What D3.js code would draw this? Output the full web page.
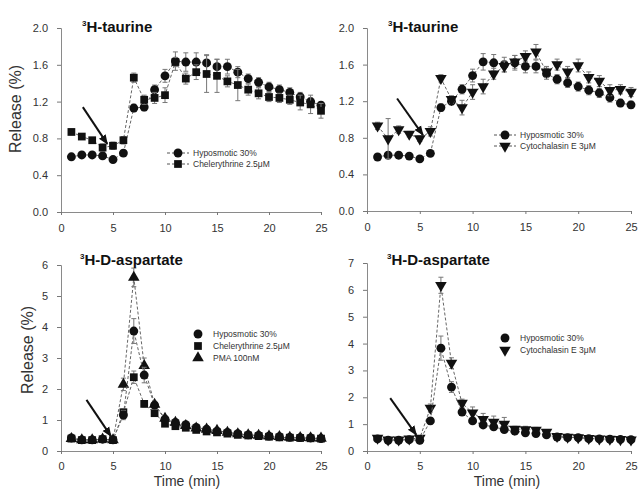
<!DOCTYPE html>
<html>
<head>
<meta charset="utf-8">
<script src="https://cdn.jsdelivr.net/npm/d3@7"></script>
<style>
body{margin:0;background:#fff;}
svg{display:block;font-family:Arial,"Liberation Sans",sans-serif;}
</style>
</head>
<body>
<svg id="chart" width="639" height="489"></svg>
<script>
// time points (min)
var time = [1,2,3,4,5,6,7,8,9,10,11,12,13,14,15,16,17,18,19,20,21,22,23,24,25];
var xTicks = [0,5,10,15,20,25];

// 3H-taurine, left panel
var taurHypoA = [0.60,0.62,0.62,0.61,0.57,0.64,1.13,1.14,1.33,1.48,1.64,1.63,1.63,1.62,1.58,1.58,1.52,1.45,1.41,1.36,1.33,1.30,1.25,1.20,1.16];
var taurHypoAErr = [0.02,0.02,0.02,0.02,0.02,0.03,0.04,0.04,0.05,0.07,0.10,0.10,0.10,0.09,0.08,0.08,0.06,0.05,0.05,0.05,0.05,0.05,0.05,0.04,0.04];
var taurChel = [0.87,0.82,0.78,0.70,0.72,0.78,1.46,1.22,1.24,1.27,1.63,1.45,1.52,1.50,1.48,1.42,1.38,1.33,1.29,1.25,1.24,1.22,1.19,1.17,1.10];
var taurChelErr = [0.03,0.02,0.03,0.04,0.04,0.04,0.05,0.05,0.06,0.08,0.05,0.06,0.08,0.20,0.18,0.06,0.17,0.06,0.06,0.05,0.05,0.05,0.08,0.10,0.08];

// 3H-taurine, right panel
var taurHypoB = [0.59,0.61,0.61,0.60,0.57,0.63,1.13,1.20,1.33,1.48,1.63,1.62,1.60,1.62,1.58,1.58,1.50,1.44,1.40,1.36,1.32,1.29,1.24,1.18,1.16];
var taurHypoBErr = [0.02,0.02,0.02,0.02,0.02,0.03,0.04,0.04,0.05,0.07,0.09,0.09,0.08,0.08,0.07,0.07,0.06,0.05,0.05,0.05,0.05,0.05,0.05,0.04,0.04];
var taurCyto = [0.93,0.79,0.89,0.84,0.79,0.87,1.45,1.22,1.13,1.30,1.36,1.50,1.58,1.63,1.69,1.74,1.52,1.60,1.52,1.59,1.46,1.42,1.32,1.33,1.30];
var taurCytoErr = [0.04,0.22,0.04,0.03,0.03,0.05,0.04,0.04,0.08,0.08,0.08,0.06,0.06,0.07,0.06,0.08,0.06,0.06,0.06,0.07,0.06,0.06,0.06,0.05,0.05];

// 3H-D-aspartate, left panel
var aspHypoC = [0.42,0.36,0.36,0.38,0.36,1.16,3.87,2.45,1.48,1.03,0.92,0.85,0.76,0.70,0.64,0.60,0.56,0.52,0.50,0.48,0.46,0.44,0.43,0.42,0.40];
var aspHypoCErr = [0.05,0.03,0.03,0.03,0.03,0.15,0.40,0.25,0.12,0.08,0.06,0.05,0.05,0.04,0.04,0.04,0.03,0.03,0.03,0.03,0.03,0.03,0.03,0.03,0.03];
var aspChel = [0.40,0.35,0.35,0.38,0.35,1.25,2.38,1.52,1.22,0.88,0.80,0.75,0.68,0.63,0.60,0.56,0.52,0.50,0.48,0.46,0.44,0.43,0.42,0.41,0.40];
var aspChelErr = [0.03,0.03,0.03,0.03,0.03,0.10,0.20,0.10,0.08,0.06,0.05,0.05,0.04,0.04,0.04,0.03,0.03,0.03,0.03,0.03,0.03,0.03,0.03,0.03,0.03];
var aspPMA = [0.40,0.36,0.36,0.38,0.36,2.15,5.60,2.75,1.50,1.05,0.92,0.82,0.74,0.70,0.66,0.60,0.55,0.52,0.50,0.48,0.46,0.44,0.43,0.42,0.41];
var aspPMAErr = [0.03,0.03,0.03,0.03,0.03,0.20,0.30,0.25,0.10,0.06,0.05,0.05,0.04,0.04,0.04,0.03,0.03,0.03,0.03,0.03,0.03,0.03,0.03,0.03,0.03];

// 3H-D-aspartate, right panel
var aspHypoD = [0.45,0.40,0.40,0.42,0.40,1.12,3.83,2.38,1.45,1.12,0.97,0.90,0.80,0.74,0.68,0.65,0.60,0.52,0.50,0.50,0.46,0.45,0.44,0.43,0.42];
var aspHypoDErr = [0.06,0.03,0.03,0.03,0.04,0.12,0.45,0.20,0.12,0.10,0.08,0.06,0.06,0.05,0.05,0.05,0.04,0.04,0.04,0.04,0.03,0.03,0.03,0.03,0.03];
var aspCyto = [0.48,0.42,0.42,0.45,0.48,1.60,6.17,3.27,1.78,1.42,1.18,1.08,1.00,0.82,0.80,0.78,0.70,0.55,0.52,0.50,0.47,0.45,0.44,0.43,0.42];
var aspCytoErr = [0.05,0.03,0.03,0.03,0.04,0.15,0.30,0.20,0.15,0.22,0.22,0.22,0.25,0.10,0.12,0.10,0.06,0.04,0.04,0.04,0.03,0.03,0.03,0.03,0.03];

var svg = d3.select("#chart");

var panels = [
  {x0:61, x1:321, yb:212, yt:28, ymax:2, yticks:[0,0.4,0.8,1.2,1.6,2.0], fmt:d3.format(".1f"),
   title:"H-taurine", tx:82, ty:32, xpad:9,
   series:[{v:taurHypoA, e:taurHypoAErr, sym:"circle"}, {v:taurChel, e:taurChelErr, sym:"square"}],
   legend:{x:178, y:153, lines:true, items:[["circle","Hyposmotic 30%"],["square","Chelerythrine 2.5\u03bcM"]]},
   arrow:[[2.1,1.14],[4.45,0.74]], ylab:[15,109]},
  {x0:367, x1:631, yb:211, yt:28, ymax:2, yticks:[0,0.4,0.8,1.2,1.6,2.0], fmt:d3.format(".1f"),
   title:"H-taurine", tx:388, ty:32, xpad:9,
   series:[{v:taurHypoB, e:taurHypoBErr, sym:"circle"}, {v:taurCyto, e:taurCytoErr, sym:"down"}],
   legend:{x:505, y:135, lines:true, items:[["circle","Hyposmotic 30%"],["down","Cytochalasin E 3\u03bcM"]]},
   arrow:[[2.85,1.23],[5.3,0.83]]},
  {x0:61, x1:321, yb:451, yt:265, ymax:6, yticks:[0,1,2,3,4,5,6], fmt:d3.format("d"),
   title:"H-D-aspartate", tx:80, ty:265, xpad:8,
   series:[{v:aspChel, e:aspChelErr, sym:"square"}, {v:aspPMA, e:aspPMAErr, sym:"up"}, {v:aspHypoC, e:aspHypoCErr, sym:"circle"}],
   legend:{x:198, y:334, lines:false, items:[["circle","Hyposmotic 30%"],["square","Chelerythrine 2.5\u03bcM"],["up","PMA 100nM"]]},
   arrow:[[2.45,1.65],[4.8,0.48]], ylab:[27,350], xlab:187},
  {x0:367, x1:631, yb:451, yt:263, ymax:7, yticks:[0,1,2,3,4,5,6,7], fmt:d3.format("d"),
   title:"H-D-aspartate", tx:387, ty:265, xpad:8,
   series:[{v:aspCyto, e:aspCytoErr, sym:"down"}, {v:aspHypoD, e:aspHypoDErr, sym:"circle"}],
   legend:{x:505, y:338, lines:false, items:[["circle","Hyposmotic 30%"],["down","Cytochalasin E 3\u03bcM"]]},
   arrow:[[2.2,1.97],[4.67,0.6]], xlab:507}
];

svg.append("defs").append("marker")
  .attr("id","ah").attr("viewBox","0 0 10 10").attr("refX",9).attr("refY",5)
  .attr("markerWidth",5).attr("markerHeight",5).attr("orient","auto")
  .append("path").attr("d","M0,1L10,5L0,9z").attr("fill","#111");

function symPath(sym){
  if(sym=="circle") return d3.symbol().type(d3.symbolCircle).size(62)();
  if(sym=="square") return d3.symbol().type(d3.symbolSquare).size(60)();
  return d3.symbol().type(d3.symbolTriangle).size(58)();
}
function symTransform(sym, x, y){
  return "translate("+x+","+y+")"+(sym=="down" ? " rotate(180)" : "");
}

panels.forEach(function(p){
  var x = d3.scaleLinear().domain([0,25]).range([p.x0,p.x1]);
  var y = d3.scaleLinear().domain([0,p.ymax]).range([p.yb,p.yt]);
  var g = svg.append("g");

  // axes
  var ya = g.append("g").attr("transform","translate("+p.x0+",0)")
    .call(d3.axisLeft(y).tickValues(p.yticks).tickFormat(p.fmt).tickSize(4).tickPadding(9));
  var xa = g.append("g").attr("transform","translate(0,"+p.yb+")")
    .call(d3.axisBottom(x).tickValues(xTicks).tickSize(3).tickPadding(p.xpad));
  [ya,xa].forEach(function(a){
    a.select(".domain").attr("stroke","#8a8a8a");
    a.selectAll(".tick line").attr("stroke","#777");
    a.selectAll("text").attr("font-size",11).attr("fill","#333").attr("font-family","Arial,'Liberation Sans',sans-serif");
  });

  // series
  p.series.forEach(function(s){
    var pts = time.map(function(t,i){ return {t:t, v:s.v[i], e:s.e[i]}; });
    g.append("path").datum(pts)
      .attr("fill","none").attr("stroke","#666").attr("stroke-width",1)
      .attr("stroke-dasharray","3,2")
      .attr("d", d3.line().x(function(d){return x(d.t);}).y(function(d){return y(d.v);}));
    var eb = g.append("g").attr("stroke","#777").attr("stroke-width",1);
    eb.selectAll("line.v").data(pts).enter().append("line")
      .attr("x1",function(d){return x(d.t);}).attr("x2",function(d){return x(d.t);})
      .attr("y1",function(d){return y(d.v+d.e);}).attr("y2",function(d){return y(d.v-d.e);});
    eb.selectAll("line.cu").data(pts).enter().append("line")
      .attr("x1",function(d){return x(d.t)-2.5;}).attr("x2",function(d){return x(d.t)+2.5;})
      .attr("y1",function(d){return y(d.v+d.e);}).attr("y2",function(d){return y(d.v+d.e);});
    eb.selectAll("line.cl").data(pts).enter().append("line")
      .attr("x1",function(d){return x(d.t)-2.5;}).attr("x2",function(d){return x(d.t)+2.5;})
      .attr("y1",function(d){return y(d.v-d.e);}).attr("y2",function(d){return y(d.v-d.e);});
    g.selectAll(null).data(pts).enter().append("path")
      .attr("d", symPath(s.sym)).attr("fill","#111")
      .attr("transform", function(d){ return symTransform(s.sym, x(d.t), y(d.v)); });
  });

  // arrow
  g.append("line")
    .attr("x1",x(p.arrow[0][0])).attr("y1",y(p.arrow[0][1]))
    .attr("x2",x(p.arrow[1][0])).attr("y2",y(p.arrow[1][1]))
    .attr("stroke","#111").attr("stroke-width",2).attr("marker-end","url(#ah)");

  // title
  var tt = g.append("text").attr("x",p.tx).attr("y",p.ty).attr("font-weight","bold").attr("fill","#111");
  tt.append("tspan").attr("font-size",8).attr("dy",-6).text("3");
  tt.append("tspan").attr("font-size",15).attr("dy",6).text(p.title);

  // legend
  p.legend.items.forEach(function(it,i){
    var ly = p.legend.y + i*(p.legend.lines ? 11 : 12);
    if(p.legend.lines){
      g.append("line").attr("x1",p.legend.x-11).attr("x2",p.legend.x+11).attr("y1",ly).attr("y2",ly)
        .attr("stroke","#555").attr("stroke-dasharray","3,2");
    }
    g.append("path").attr("d",symPath(it[0])).attr("fill","#111")
      .attr("transform",symTransform(it[0],p.legend.x,ly));
    g.append("text").attr("x",p.legend.x+15).attr("y",ly+3).attr("font-size",8.5).attr("fill","#333").text(it[1]);
  });

  if(p.ylab){
    g.append("text").attr("transform","translate("+p.ylab[0]+","+p.ylab[1]+") rotate(-90)")
      .attr("text-anchor","middle").attr("dy","0.35em").attr("font-size",16).attr("fill","#333").text("Release (%)");
  }
  if(p.xlab){
    g.append("text").attr("x",p.xlab).attr("y",486).attr("text-anchor","middle")
      .attr("font-size",14).attr("fill","#333").text("Time (min)");
  }
});
</script>
</body>
</html>
